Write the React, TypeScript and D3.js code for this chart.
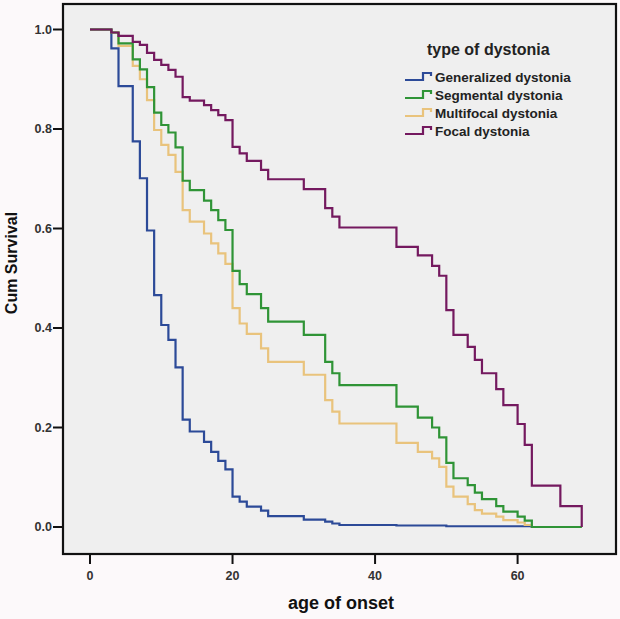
import React from "react";
import * as d3 from "d3";

// Ages (years) at which the cumulative survival drops
const sharedAges = [0, 3, 4, 6, 7, 8, 9, 10, 11, 12, 13, 14, 16, 17, 18, 19, 20, 21, 22, 24, 25, 30, 33, 34, 35, 43, 46, 48, 49, 50, 51, 53, 54, 55, 57, 58, 60, 61, 62, 66, 69];

const generalizedSurvival = [1.0, 0.962, 0.886, 0.775, 0.701, 0.596, 0.466, 0.406, 0.376, 0.321, 0.216, 0.192, 0.171, 0.151, 0.133, 0.116, 0.061, 0.051, 0.041, 0.033, 0.022, 0.015, 0.011, 0.007, 0.004, 0.003, 0.003, 0.003, 0.003, 0.0015, 0.0015, 0.0015, 0.0015, 0.0015, 0.0015, 0.0015, 0.0015, 0.0015, 0.0, 0.0, 0.0];

const segmentalSurvival = [1.0, 0.994, 0.972, 0.94, 0.92, 0.884, 0.833, 0.808, 0.793, 0.763, 0.696, 0.677, 0.656, 0.637, 0.617, 0.597, 0.515, 0.488, 0.468, 0.44, 0.413, 0.386, 0.332, 0.309, 0.285, 0.242, 0.22, 0.2, 0.18, 0.129, 0.098, 0.084, 0.069, 0.056, 0.042, 0.031, 0.021, 0.013, 0.0, 0.0, 0.0];

const multifocalSurvival = [1.0, 0.994, 0.967, 0.927, 0.9, 0.858, 0.798, 0.768, 0.748, 0.714, 0.637, 0.614, 0.59, 0.57, 0.55, 0.529, 0.44, 0.409, 0.388, 0.359, 0.332, 0.306, 0.255, 0.232, 0.208, 0.169, 0.151, 0.138, 0.121, 0.081, 0.061, 0.046, 0.034, 0.027, 0.021, 0.014, 0.009, 0.004, 0.0, 0.0, 0.0];

const focalAges = [0, 3, 4, 6, 7, 8, 9, 10, 11, 12, 13, 14, 16, 17, 18, 19, 20, 21, 22, 24, 25, 30, 33, 34, 35, 43, 46, 48, 49, 50, 51, 53, 54, 55, 57, 58, 60, 61, 62, 66, 69];
const focalSurvival = [1.0, 0.994, 0.987, 0.975, 0.969, 0.953, 0.939, 0.929, 0.919, 0.905, 0.864, 0.857, 0.848, 0.838, 0.828, 0.818, 0.764, 0.751, 0.736, 0.718, 0.699, 0.679, 0.641, 0.624, 0.602, 0.563, 0.546, 0.525, 0.505, 0.436, 0.386, 0.362, 0.336, 0.309, 0.277, 0.245, 0.207, 0.165, 0.083, 0.042, 0.0];

const legendTitle = "type of dystonia";
const seriesNames = ["Generalized dystonia", "Segmental dystonia", "Multifocal dystonia", "Focal dystonia"];
const seriesColors = ["#2c4a98", "#2f9436", "#e9c37c", "#74195f"];
const xTicks = [0, 20, 40, 60];
const yTicks = [0.0, 0.2, 0.4, 0.6, 0.8, 1.0];
const xTitle = "age of onset";
const yTitle = "Cum Survival";

export default function App() {
  const W = 620, H = 619;
  const frame = { left: 63, right: 616, top: 4, bottom: 554 };
  const x = d3.scaleLinear().domain([0, 60]).range([90, 517.6]);
  const y = d3.scaleLinear().domain([0, 1]).range([527, 29.5]);
  const font = "'Liberation Sans', Arial, sans-serif";

  const series = [
    { name: seriesNames[0], color: seriesColors[0], ages: sharedAges, surv: generalizedSurvival },
    { name: seriesNames[1], color: seriesColors[1], ages: sharedAges, surv: segmentalSurvival },
    { name: seriesNames[2], color: seriesColors[2], ages: sharedAges, surv: multifocalSurvival },
    { name: seriesNames[3], color: seriesColors[3], ages: focalAges, surv: focalSurvival },
  ];
  const drawOrder = [0, 2, 1, 3];

  const line = d3
    .line<[number, number]>()
    .x((d) => x(d[0]))
    .y((d) => y(d[1]))
    .curve(d3.curveStepAfter);

  const legendX = 405;
  const legendY0 = 77;
  const legendDy = 18;

  return (
    <svg
      width={W}
      height={H}
      style={{ position: "absolute", left: 0, top: 0, display: "block" }}
      fontFamily={font}
    >
      <rect x={0} y={0} width={W} height={H} fill="#fcf9fa" />
      <rect
        x={frame.left}
        y={frame.top}
        width={frame.right - frame.left}
        height={frame.bottom - frame.top}
        fill="#efefef"
      />
      {drawOrder.map((i) => {
        const s = series[i];
        const pts: [number, number][] = s.ages.map((a, k) => [a, s.surv[k]]);
        return (
          <path
            key={s.name}
            d={line(pts) || ""}
            fill="none"
            stroke={s.color}
            strokeWidth={2.2}
          />
        );
      })}
      <rect
        x={frame.left}
        y={frame.top}
        width={frame.right - frame.left}
        height={frame.bottom - frame.top}
        fill="none"
        stroke="#111"
        strokeWidth={2.2}
      />
      {yTicks.map((t) => (
        <g key={"y" + t}>
          <line x1={53} x2={frame.left} y1={y(t)} y2={y(t)} stroke="#111" strokeWidth={2} />
          <text
            x={52}
            y={y(t)}
            dy="0.35em"
            textAnchor="end"
            fontSize={12.5}
            fontWeight="bold"
            fill="#333"
          >
            {t.toFixed(1)}
          </text>
        </g>
      ))}
      {xTicks.map((t) => (
        <g key={"x" + t}>
          <line x1={x(t)} x2={x(t)} y1={frame.bottom} y2={564} stroke="#111" strokeWidth={2} />
          <text x={x(t)} y={580} textAnchor="middle" fontSize={12.5} fontWeight="bold" fill="#333">
            {t}
          </text>
        </g>
      ))}
      <text x={341} y={609} textAnchor="middle" fontSize={18} fontWeight="bold" fill="#111">
        {xTitle}
      </text>
      <text
        transform={`translate(17,263) rotate(-90)`}
        textAnchor="middle"
        fontSize={16}
        fontWeight="bold"
        fill="#111"
      >
        {yTitle}
      </text>
      <text x={427} y={55} fontSize={16} fontWeight="bold" fill="#222">
        {legendTitle}
      </text>
      {series.map((s, i) => {
        const cy = legendY0 + i * legendDy;
        const d = `M${legendX},${cy + 3}H${legendX + 18}V${cy - 4}H${legendX + 26}V${cy - 1}`;
        return (
          <g key={"lg" + i}>
            <path d={d} fill="none" stroke={s.color} strokeWidth={2.2} />
            <text x={legendX + 30} y={cy} dy="0.35em" fontSize={13.5} fontWeight="bold" fill="#222">
              {s.name}
            </text>
          </g>
        );
      })}
    </svg>
  );
}
